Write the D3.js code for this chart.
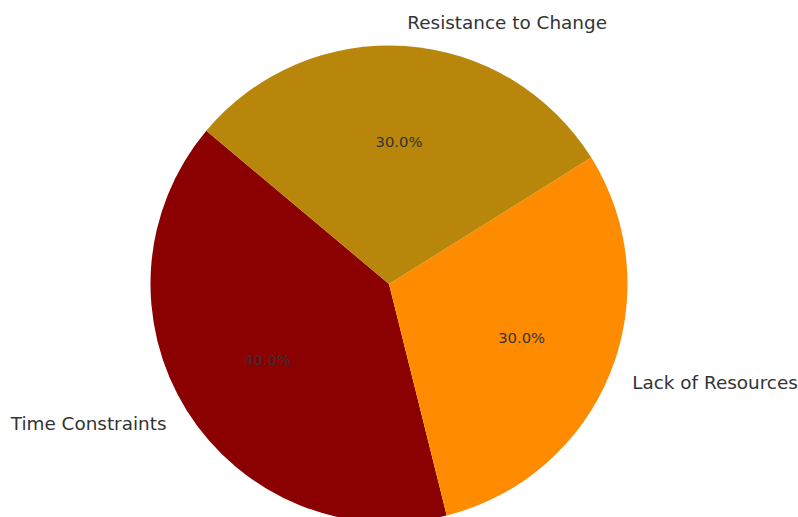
<!DOCTYPE html>
<html>
<head>
<meta charset="utf-8">
<script src="https://cdn.jsdelivr.net/npm/d3@7"></script>
<style>
  html, body { margin: 0; padding: 0; background: #ffffff; }
  svg { display: block; }
</style>
</head>
<body>
<svg id="chart" width="798" height="517"></svg>
<script>
// Challenges, in drawing order (counterclockwise from the start angle)
const categories = ["Time Constraints", "Lack of Resources", "Resistance to Change"];
const shares = [40, 30, 30];
const colors = ["#8B0000", "#FF8C00", "#B8860B"];

const width = 798, height = 517;
const cx = 389, cy = 284, radius = 238.5;
const startDeg = 140; // first wedge starts here, measured counterclockwise from 3 o'clock

const svg = d3.select("#chart");
const g = svg.append("g").attr("transform", `translate(${cx},${cy})`);

// Convert math-style angle (ccw from +x, degrees) to d3 angle (cw from 12 o'clock, radians)
const toD3 = deg => (90 - deg) * Math.PI / 180;

const total = d3.sum(shares);
let acc = startDeg;
const wedges = shares.map((v, i) => {
  const a0 = acc, a1 = acc + v / total * 360;
  acc = a1;
  return { i, value: v, a0, a1, mid: (a0 + a1) / 2 };
});

const arc = d3.arc().innerRadius(0).outerRadius(radius);

g.selectAll("path.slice")
  .data(wedges)
  .join("path")
  .attr("class", "slice")
  .attr("fill", d => colors[d.i])
  .attr("d", d => arc({ startAngle: toD3(d.a1), endAngle: toD3(d.a0) }));

const fmt = d3.format(".1f");

// percentage text inside each wedge
g.selectAll("text.pct")
  .data(wedges)
  .join("text")
  .attr("class", "pct")
  .attr("x", d => 0.6 * radius * Math.cos(d.mid * Math.PI / 180))
  .attr("y", d => -0.6 * radius * Math.sin(d.mid * Math.PI / 180))
  .attr("text-anchor", "middle")
  .attr("dominant-baseline", "central")
  .attr("font-family", "DejaVu Sans, sans-serif")
  .attr("font-size", 14.8)
  .attr("fill", "#333333")
  .text(d => fmt(d.value / total * 100) + "%");

// category labels just outside the rim
g.selectAll("text.label")
  .data(wedges)
  .join("text")
  .attr("class", "label")
  .attr("x", d => 1.1 * radius * Math.cos(d.mid * Math.PI / 180))
  .attr("y", d => -1.1 * radius * Math.sin(d.mid * Math.PI / 180))
  .attr("text-anchor", d => Math.cos(d.mid * Math.PI / 180) >= 0 ? "start" : "end")
  .attr("dominant-baseline", "central")
  .attr("font-family", "DejaVu Sans, sans-serif")
  .attr("font-size", 18.4)
  .attr("fill", "#333333")
  .text(d => categories[d.i]);
</script>
</body>
</html>
